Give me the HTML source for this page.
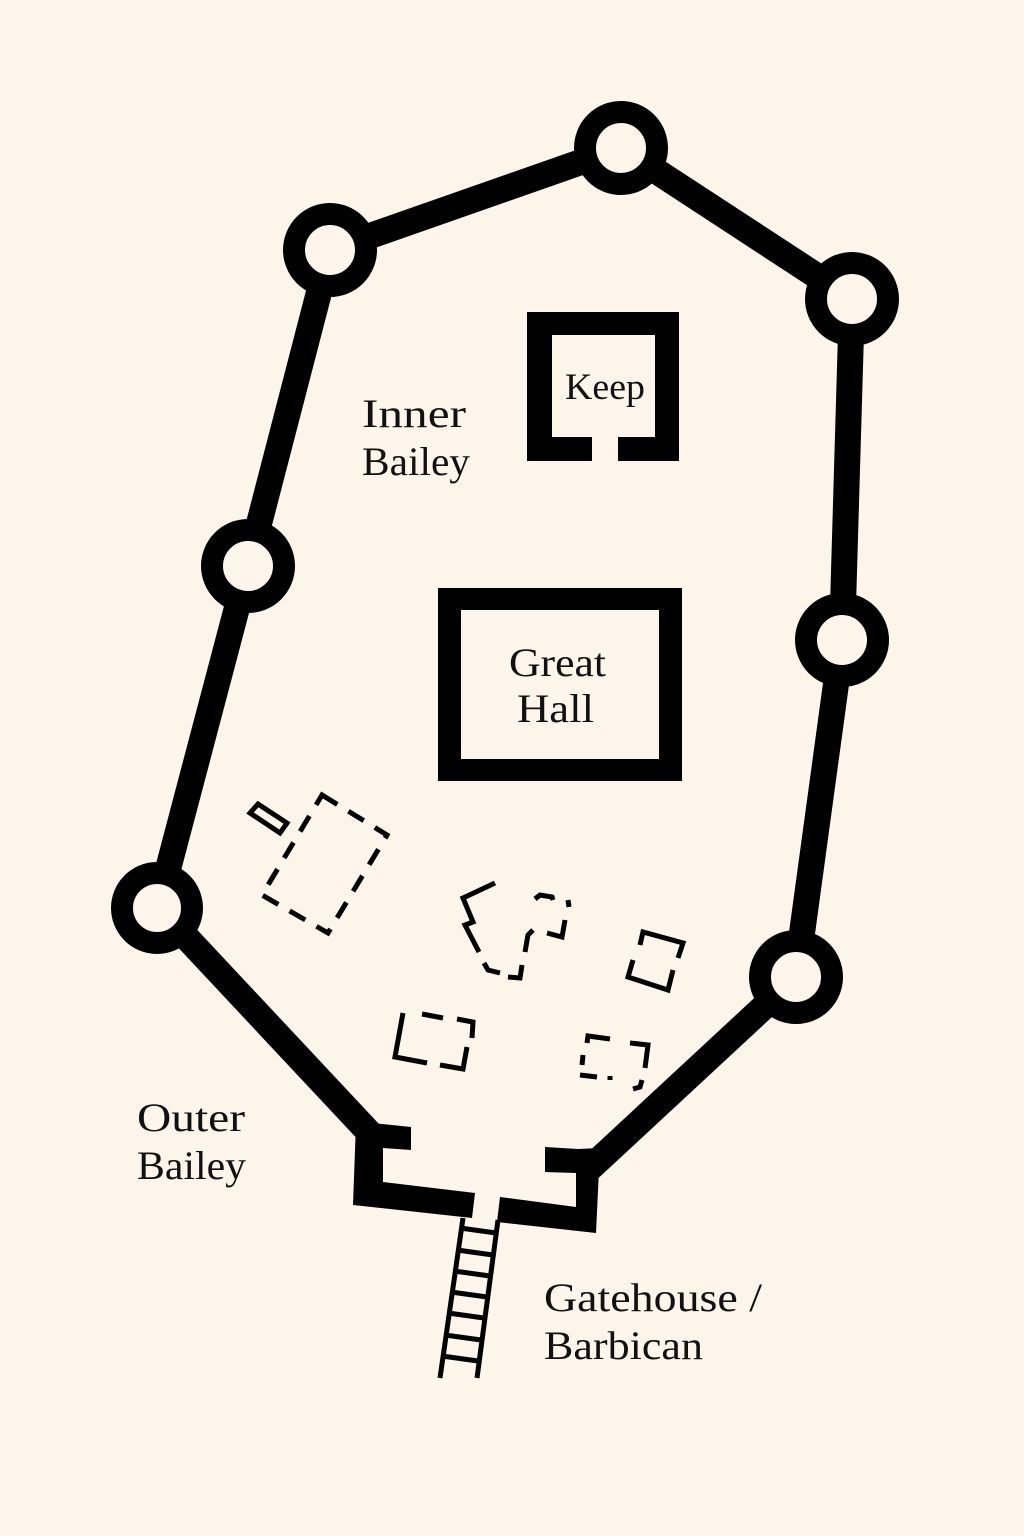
<!DOCTYPE html>
<html><head><meta charset="utf-8"><style>
html,body{margin:0;padding:0;background:#fdf4ea;}
svg{display:block}
text{font-family:"Liberation Serif","DejaVu Serif",serif;fill:#111;}
</style></head><body>
<svg width="1024" height="1536" viewBox="0 0 1024 1536" xmlns="http://www.w3.org/2000/svg">
<rect width="1024" height="1536" fill="#fdf4ea"/>
<g stroke="#000" stroke-width="26" fill="none" stroke-linejoin="miter">
<polyline points="378,1142 158,907 248,566 330,250 621,148 852,299 842,640 796,977 588,1170"/>
</g>
<g stroke="#000" stroke-width="22" fill="#fdf4ea">
<circle cx="330" cy="250" r="36"/>
<circle cx="621" cy="148" r="36"/>
<circle cx="852" cy="299" r="36"/>
<circle cx="842" cy="640" r="36"/>
<circle cx="796" cy="977" r="36"/>
<circle cx="157" cy="908" r="35"/>
<circle cx="248" cy="566" r="36"/>
</g>
<polygon fill="#000" points="373,1123 411,1127 411,1150 383,1148 383,1182 475,1193 472,1218 353,1205 356,1123"/>
<polygon fill="#000" points="545,1147 578,1149 600,1148 596,1233 497,1222 500,1197 576,1207 576,1173 545,1172"/>
<g stroke="#000" stroke-width="5" fill="none">
<line x1="463" y1="1218" x2="440" y2="1378"/>
<line x1="498" y1="1220" x2="477" y2="1378"/>
<line x1="460" y1="1228" x2="496" y2="1233"/>
<line x1="457" y1="1250" x2="493" y2="1255"/>
<line x1="454" y1="1271" x2="490" y2="1276"/>
<line x1="451" y1="1292" x2="487" y2="1297"/>
<line x1="448" y1="1313" x2="484" y2="1318"/>
<line x1="445" y1="1335" x2="481" y2="1340"/>
<line x1="442" y1="1356" x2="478" y2="1361"/>
</g>
<path fill="#000" fill-rule="evenodd" d="M527,312 H679 V461 H618 V437 H655 V335 H552 V437 H592 V461 H527 Z"/>
<path fill="#000" fill-rule="evenodd" d="M438,588 H682 V781 H438 Z M461,610 V759 H659 V610 Z"/>
<g stroke="#000" stroke-width="5" fill="none">
<polygon points="322,795 387,835 328,933 262,895" stroke-dasharray="18,13"/>
<polygon points="250,813 258,804 287,823 280,833"/>
<polyline points="495,883 463,898 473,922 465,925 479,952"/>
<polyline points="484,963 488,970 500,973"/>
<polyline points="508,977 520,978 522,965"/>
<polyline points="525,952 528,935 533,930"/>
<polyline points="547,933 562,937 565,920"/>
<line x1="568" y1="900" x2="569" y2="907"/>
<polyline points="535,899 540,895 552,897 553,900"/>
<polyline points="640,945 643,932 683,943 678,958"/>
<polyline points="673,970 668,990 628,977 633,960"/>
<polyline points="403,1013 395,1057 427,1063"/>
<polyline points="440,1065 463,1069 467,1047"/>
<polyline points="472,1038 473,1022 457,1019"/>
<line x1="422" y1="1014" x2="443" y2="1018"/>
<polyline points="587,1043 588,1036 610,1039"/>
<polyline points="630,1043 648,1045 645,1068"/>
<line x1="583" y1="1055" x2="582" y2="1065"/>
<line x1="580" y1="1075" x2="597" y2="1077"/>
<line x1="610" y1="1076" x2="610" y2="1080"/>
<polyline points="642,1080 640,1087 633,1089"/>
</g>
<g font-size="40">
<text x="362" y="427" textLength="104" lengthAdjust="spacingAndGlyphs">Inner</text>
<text x="362" y="475" textLength="108" lengthAdjust="spacingAndGlyphs">Bailey</text>
<text x="509" y="676" textLength="97" lengthAdjust="spacingAndGlyphs">Great</text>
<text x="517" y="722" textLength="77" lengthAdjust="spacingAndGlyphs">Hall</text>
<text x="137" y="1131" textLength="108" lengthAdjust="spacingAndGlyphs">Outer</text>
<text x="137" y="1179" textLength="109" lengthAdjust="spacingAndGlyphs">Bailey</text>
<text x="544" y="1311" textLength="218" lengthAdjust="spacingAndGlyphs">Gatehouse /</text>
<text x="544" y="1359" textLength="159" lengthAdjust="spacingAndGlyphs">Barbican</text>
</g>
<text x="565" y="399" font-size="37" textLength="80" lengthAdjust="spacingAndGlyphs">Keep</text>
</svg>
</body></html>
